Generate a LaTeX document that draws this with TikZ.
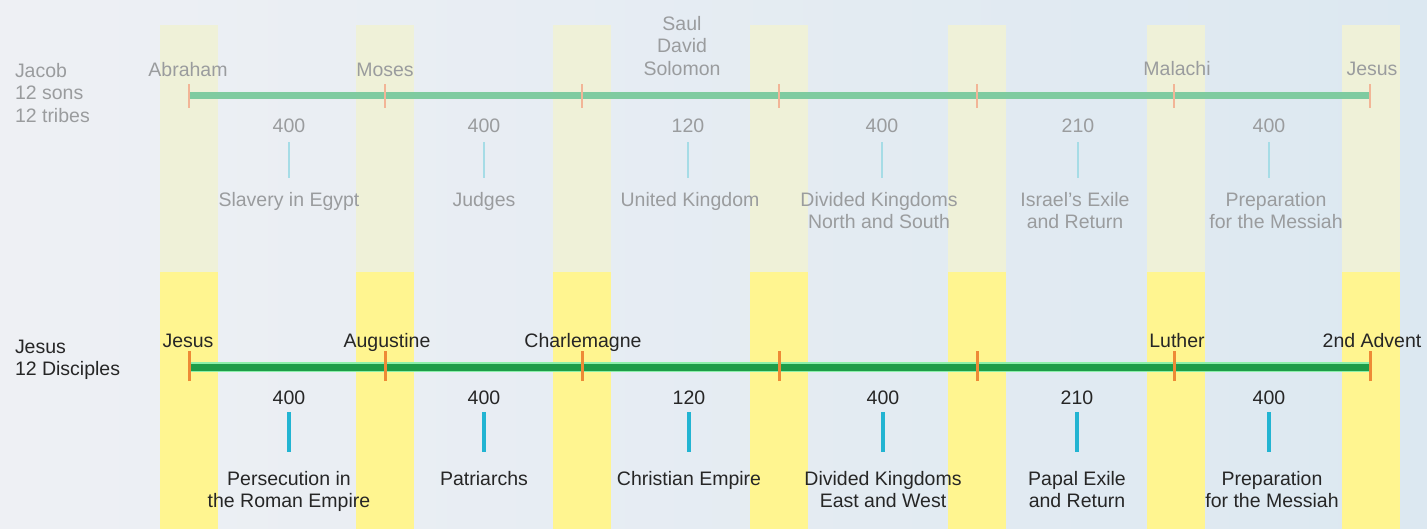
\documentclass[tikz,border=0pt]{standalone}
\usepackage{fontspec}
\setmainfont{Liberation Sans}
\begin{document}
\begin{tikzpicture}[x=1pt,y=-1pt,
  every node/.style={font=\fontsize{19.5}{22.5}\selectfont, inner sep=0pt, outer sep=0pt},
  toptext/.style={text=topgrey},
  bottext/.style={text=botdark},
  lbl/.style={align=center, anchor=north},
  topbar/.style={draw=topcyan, line width=2.5pt},
  botbar/.style={draw=botcyan, line width=4pt},
  toptick/.style={draw=toporange, line width=1.8pt},
  bottick/.style={draw=botorange, line width=3pt}]
\definecolor{topgrey}{HTML}{9A9C9E}
\definecolor{botdark}{HTML}{262626}
\definecolor{topcyan}{HTML}{A6DCE6}
\definecolor{botcyan}{HTML}{22B4D2}
\definecolor{toporange}{HTML}{F2B596}
\definecolor{botorange}{HTML}{EE8A36}
\definecolor{topgreen}{HTML}{7FCBA0}
\definecolor{botgreen}{HTML}{1E9C48}
\definecolor{botglow}{HTML}{8CF0AA}
\definecolor{bgleft}{HTML}{EEF0F4}
\definecolor{bgright}{HTML}{DCE8F1}
\definecolor{bandtop}{HTML}{EFF1D8}
\definecolor{bandbot}{HTML}{FFF590}
\useasboundingbox (0,0) rectangle (1427,529);
% background
\shade[left color=bgleft, right color=bgright] (0,0) rectangle (1427,529);
% bands
\foreach \x in {189,385,582,779,977,1176,1371} {
  \fill[bandtop] (\x-29,25) rectangle (\x+29,272);
  \fill[bandbot] (\x-29,272) rectangle (\x+29,529);
}
% ---------- top timeline ----------
\foreach \i/\x in {1/189,2/385,3/582,4/779,5/977,6/1174,7/1370} {
  \coordinate (t\i) at (\x,96);
  \coordinate (b\i) at (\x,367);
}
\draw[topgreen, line width=7pt] (t1) -- (t7);
\foreach \i in {1,...,7} \draw[toptick] ([yshift=-12pt]t\i) -- ([yshift=12pt]t\i);

\node[toptext, lbl, anchor=north west, align=left] (jacob) at (15,63) {Jacob\\12 sons\\12 tribes};
\node[toptext, anchor=base] (abraham) at (188,77) {Abraham};
\node[toptext, anchor=base] (moses) at (385,77) {Moses};
\node[toptext, lbl] (saul) at (682,16) {Saul\\David\\Solomon};
\node[toptext, anchor=base] (malachi) at (1177,76) {Malachi};
\node[toptext, anchor=base] (jesust) at (1372,76) {Jesus};

\node[toptext, anchor=base] (tn1) at (289,133) {400};
\node[toptext, anchor=base] (tn2) at (484,133) {400};
\node[toptext, anchor=base] (tn3) at (688,133) {120};
\node[toptext, anchor=base] (tn4) at (882,133) {400};
\node[toptext, anchor=base] (tn5) at (1078,133) {210};
\node[toptext, anchor=base] (tn6) at (1269,133) {400};

\node[toptext, lbl] (tl1) at (289,192) {Slavery in Egypt};
\node[toptext, lbl] (tl2) at (484,192) {Judges};
\node[toptext, lbl] (tl3) at (690,192) {United Kingdom};
\node[toptext, lbl] (tl4) at (879,192) {Divided Kingdoms\\North and South};
\node[toptext, lbl] (tl5) at (1075,192) {Israel's Exile\\and Return};
\node[toptext, lbl] (tl6) at (1276,192) {Preparation\\for the Messiah};

\foreach \i in {1,...,6}
  \draw[topbar, shorten <=9pt] (tn\i.south) -- (tn\i.south |- 0,178);

% ---------- bottom timeline ----------
\draw[botglow, line width=10pt] (b1) -- (b7);
\draw[botgreen, line width=7pt] (b1) -- (b7);
\foreach \i in {1,...,7} \draw[bottick] ([yshift=-14pt]b\i) -- ([yshift=16pt]b\i);

\node[bottext, lbl, anchor=north west, align=left] (jesus12) at (15,340) {Jesus\\12 Disciples};
\node[bottext, anchor=base] (jesusb) at (188,347) {Jesus};
\node[bottext, anchor=base] (augustine) at (387,347) {Augustine};
\node[bottext, anchor=base] (charlemagne) at (583,347) {Charlemagne};
\node[bottext, anchor=base] (luther) at (1177,347) {Luther};
\node[bottext, anchor=base] (advent) at (1372,347) {2nd Advent};

\node[bottext, anchor=base] (bn1) at (289,404) {400};
\node[bottext, anchor=base] (bn2) at (484,404) {400};
\node[bottext, anchor=base] (bn3) at (689,404) {120};
\node[bottext, anchor=base] (bn4) at (883,404) {400};
\node[bottext, anchor=base] (bn5) at (1077,404) {210};
\node[bottext, anchor=base] (bn6) at (1269,404) {400};

\node[bottext, lbl] (bl1) at (289,471) {Persecution in\\the Roman Empire};
\node[bottext, lbl] (bl2) at (484,471) {Patriarchs};
\node[bottext, lbl] (bl3) at (689,471) {Christian Empire};
\node[bottext, lbl] (bl4) at (883,471) {Divided Kingdoms\\East and West};
\node[bottext, lbl] (bl5) at (1077,471) {Papal Exile\\and Return};
\node[bottext, lbl] (bl6) at (1272,471) {Preparation\\for the Messiah};

\foreach \i in {1,...,6}
  \draw[botbar, shorten <=8pt] (bn\i.south) -- (bn\i.south |- 0,452);
\end{tikzpicture}
\end{document}
